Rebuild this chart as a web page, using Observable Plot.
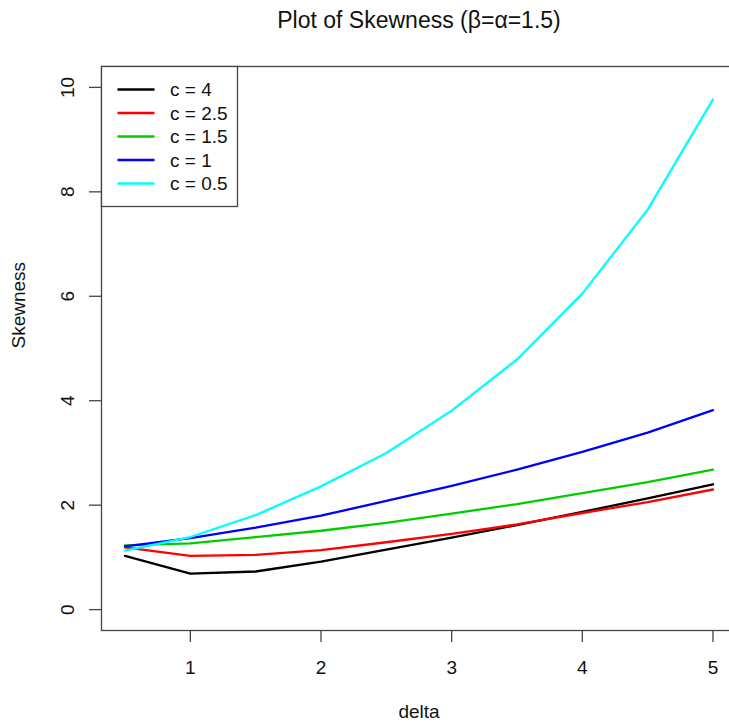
<!DOCTYPE html>
<html>
<head>
<meta charset="utf-8">
<script src="https://cdn.jsdelivr.net/npm/d3@7"></script>
<script src="https://cdn.jsdelivr.net/npm/@observablehq/plot@0.6"></script>
<style>
  html, body { margin: 0; padding: 0; background: #fff; }
  #chart { position: relative; width: 729px; height: 724px; overflow: hidden; }
  #chart svg { font-family: "Liberation Sans", Arial, Helvetica, sans-serif; }
</style>
</head>
<body>
<div id="chart"></div>
<script>
// ---- data ----
const delta = [0.5, 1, 1.5, 2, 2.5, 3, 3.5, 4, 4.5, 5];
const skewC4  = [1.03, 0.69, 0.73, 0.92, 1.15, 1.38, 1.62, 1.87, 2.13, 2.40];
const skewC25 = [1.19, 1.03, 1.05, 1.14, 1.29, 1.45, 1.63, 1.85, 2.06, 2.30];
const skewC15 = [1.23, 1.27, 1.39, 1.51, 1.66, 1.84, 2.02, 2.23, 2.44, 2.68];
const skewC1  = [1.21, 1.37, 1.57, 1.80, 2.08, 2.37, 2.68, 3.02, 3.39, 3.82];
const skewC05 = [1.13, 1.39, 1.81, 2.36, 3.00, 3.81, 4.79, 6.05, 7.66, 9.77];
const seriesLabels = ["c = 4", "c = 2.5", "c = 1.5", "c = 1", "c = 0.5"];
const seriesColors = ["#000000", "#FF0000", "#00CD00", "#0000FF", "#00FFFF"];
const xTicks = [1, 2, 3, 4, 5];
const yTicks = [0, 2, 4, 6, 8, 10];
const title = "Plot of Skewness (\u03B2=\u03B1=1.5)";
const xLabel = "delta";
const yLabel = "Skewness";

const seriesValues = [skewC4, skewC25, skewC15, skewC1, skewC05];
const rows = [];
seriesValues.forEach((vals, i) => {
  vals.forEach((v, j) => rows.push({ delta: delta[j], skew: v, c: seriesLabels[i] }));
});

const axisColor = "#444";
const textColor = "#111";

const svg = Plot.plot({
  width: 729,
  height: 724,
  marginLeft: 101,
  marginRight: -7,
  marginTop: 66,
  marginBottom: 94,
  style: { fontFamily: "Liberation Sans, Arial, sans-serif", background: "#fff", overflow: "hidden" },
  x: { domain: [0.32, 5.18] },
  y: { domain: [-0.4, 10.4] },
  color: { domain: seriesLabels, range: seriesColors },
  marks: [
    Plot.line(rows, { x: "delta", y: "skew", z: "c", stroke: "c", strokeWidth: 2.3 }),
    Plot.frame({ stroke: axisColor, strokeWidth: 1.3 }),
    Plot.axisX({ ticks: xTicks, tickSize: 12, tickPadding: 18, tickFormat: d => String(d), fontSize: 19, label: null, stroke: axisColor, fill: textColor, strokeWidth: 1.3 }),
    Plot.axisY({ ticks: yTicks, tickSize: 12, tickFormat: () => "", label: null, stroke: axisColor, strokeWidth: 1.3 }),
    Plot.text(yTicks, { y: d => d, text: d => String(d), frameAnchor: "left", dx: -33.5, rotate: -90, fontSize: 19, textAnchor: "middle", lineAnchor: "middle", fill: textColor }),
    Plot.text([title], { frameAnchor: "top", dy: -46, fontSize: 23, lineAnchor: "middle", fill: textColor }),
    Plot.text([xLabel], { frameAnchor: "bottom", dy: 81, fontSize: 19, lineAnchor: "middle", fill: textColor }),
    Plot.text([yLabel], { frameAnchor: "left", dx: -83, rotate: -90, fontSize: 19, lineAnchor: "middle", fill: textColor })
  ]
});

// ---- legend (R-style box in the top-left corner of the plot region) ----
const lg = d3.select(svg).append("g").attr("transform", "translate(101.5,66.5)");
lg.append("rect").attr("width", 136).attr("height", 140)
  .attr("fill", "#fff").attr("stroke", axisColor).attr("stroke-width", 1.3);
seriesLabels.forEach((lab, i) => {
  const yy = 23 + i * 23.5;
  lg.append("line").attr("x1", 16).attr("x2", 53).attr("y1", yy).attr("y2", yy)
    .attr("stroke", seriesColors[i]).attr("stroke-width", 2.3);
  lg.append("text").attr("x", 68.5).attr("y", yy).attr("dy", "0.35em")
    .attr("text-anchor", "start")
    .attr("font-size", 19).attr("fill", textColor).text(lab);
});

document.getElementById("chart").appendChild(svg);
</script>
</body>
</html>
